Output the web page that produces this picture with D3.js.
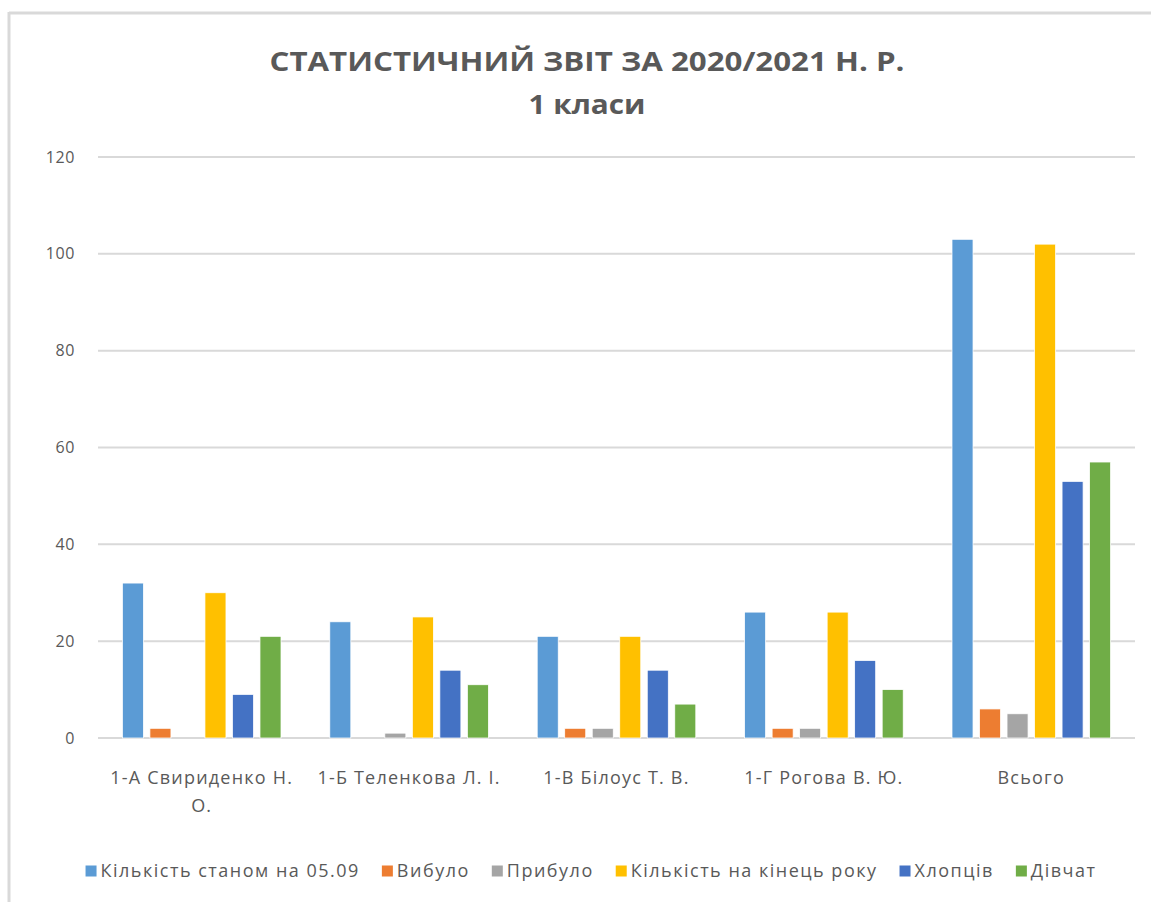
<!DOCTYPE html>
<html>
<head>
<meta charset="utf-8">
<script src="https://cdn.jsdelivr.net/npm/d3@7"></script>
<style>
  html, body { margin: 0; padding: 0; background: #fff; }
  svg { display: block; }
  text { font-family: "Open Sans", "Liberation Sans", sans-serif; }
</style>
</head>
<body>
<svg id="chart" width="1151" height="902"></svg>
<script>
const titleLines = ["СТАТИСТИЧНИЙ ЗВІТ ЗА 2020/2021 Н. Р.", "1 класи"];
const categories = [
  ["1-А Свириденко Н.", "О."],
  ["1-Б Теленкова Л. І."],
  ["1-В Білоус Т. В."],
  ["1-Г Рогова В. Ю."],
  ["Всього"]
];
const seriesNames = ["Кількість станом на 05.09", "Вибуло", "Прибуло", "Кількість на кінець року", "Хлопців", "Дівчат"];
const seriesColors = ["#5B9BD5", "#ED7D31", "#A5A5A5", "#FFC000", "#4472C4", "#70AD47"];
const startCount = [32, 24, 21, 26, 103];
const leftCount = [2, 0, 2, 2, 6];
const arrivedCount = [0, 1, 2, 2, 5];
const endCount = [30, 25, 21, 26, 102];
const boys = [9, 14, 14, 16, 53];
const girls = [21, 11, 7, 10, 57];
const yTicks = [0, 20, 40, 60, 80, 100, 120];

const seriesValues = [startCount, leftCount, arrivedCount, endCount, boys, girls];

const svg = d3.select("#chart");
const textColor = "#595959";

// chart frame (top and left edges visible)
svg.append("line").attr("x1", 9).attr("x2", 1151).attr("y1", 13).attr("y2", 13)
  .attr("stroke", "#D9D9D9").attr("stroke-width", 3);
svg.append("line").attr("x1", 9).attr("x2", 9).attr("y1", 12).attr("y2", 902)
  .attr("stroke", "#D9D9D9").attr("stroke-width", 3);

// title
const titleWidths = [635, 117];
const titleY = [71, 114];
titleLines.forEach((t, i) => {
  svg.append("text").attr("x", 587).attr("y", titleY[i]).attr("text-anchor", "middle")
    .attr("font-size", 26).attr("font-weight", "bold").attr("fill", textColor)
    .attr("textLength", titleWidths[i]).attr("lengthAdjust", "spacingAndGlyphs")
    .text(t);
});

const plotLeft = 98, plotRight = 1135, plotTop = 157, plotBottom = 738;

const y = d3.scaleLinear().domain([0, 120]).range([plotBottom, plotTop]);
const catIdx = categories.map((d, i) => i);
const x0 = d3.scaleBand().domain(catIdx).range([plotLeft, plotRight])
  .paddingInner(0.204).paddingOuter(0.102);
const x1 = d3.scaleBand().domain(d3.range(seriesNames.length)).range([0, x0.bandwidth()])
  .paddingInner(0.236).paddingOuter(0.118);

// gridlines
svg.append("g").selectAll("line").data(yTicks).join("line")
  .attr("x1", plotLeft).attr("x2", plotRight)
  .attr("y1", d => y(d)).attr("y2", d => y(d))
  .attr("stroke", "#D9D9D9").attr("stroke-width", 2);

// y axis labels
const yAxis = d3.axisLeft(y).tickValues(yTicks).tickSize(0).tickPadding(0);
const yg = svg.append("g").attr("transform", `translate(${75},0)`).call(yAxis);
yg.select(".domain").remove();
yg.selectAll("text").attr("font-size", 16).attr("fill", textColor)
  .attr("font-family", "\"Open Sans\", sans-serif").attr("letter-spacing", 0.6);

// bars
const groups = svg.append("g").selectAll("g").data(catIdx).join("g")
  .attr("transform", i => `translate(${x0(i)},0)`);
groups.selectAll("rect")
  .data(i => seriesValues.map((vals, s) => ({ s, v: vals[i] })))
  .join("rect")
  .attr("x", d => x1(d.s))
  .attr("width", x1.bandwidth())
  .attr("y", d => y(d.v))
  .attr("height", d => y(0) - y(d.v))
  .attr("fill", d => seriesColors[d.s])
  .attr("stroke", "#fff").attr("stroke-width", 0.75);

// x labels
const xl = svg.append("g").selectAll("text").data(catIdx).join("text")
  .attr("x", i => x0(i) + x0.bandwidth() / 2)
  .attr("y", 784)
  .attr("text-anchor", "middle").attr("font-size", 18).attr("letter-spacing", 1.2)
  .attr("fill", textColor);
xl.selectAll("tspan").data(i => categories[i]).join("tspan")
  .attr("x", function() { return this.parentNode.getAttribute("x"); })
  .attr("dy", (d, k) => k === 0 ? 0 : 28)
  .text(d => d);

// legend
const legend = svg.append("g");
const items = legend.selectAll("g").data(seriesNames).join("g");
items.append("rect").attr("width", 11).attr("height", 11).attr("y", -5.5)
  .attr("fill", (d, i) => seriesColors[i]);
items.append("text").attr("x", 15).attr("y", 0).attr("dy", "0.35em")
  .attr("font-size", 18).attr("letter-spacing", 1.5).attr("fill", textColor).text(d => d);
const widths = [];
items.each(function() {
  widths.push(15 + this.querySelector("text").getComputedTextLength());
});
const gap = 22;
const total = d3.sum(widths) + gap * (widths.length - 1);
let start = 591 - total / 2;
items.attr("transform", (d, i) => {
  const t = `translate(${start},871)`;
  start += widths[i] + gap;
  return t;
});
</script>
</body>
</html>
